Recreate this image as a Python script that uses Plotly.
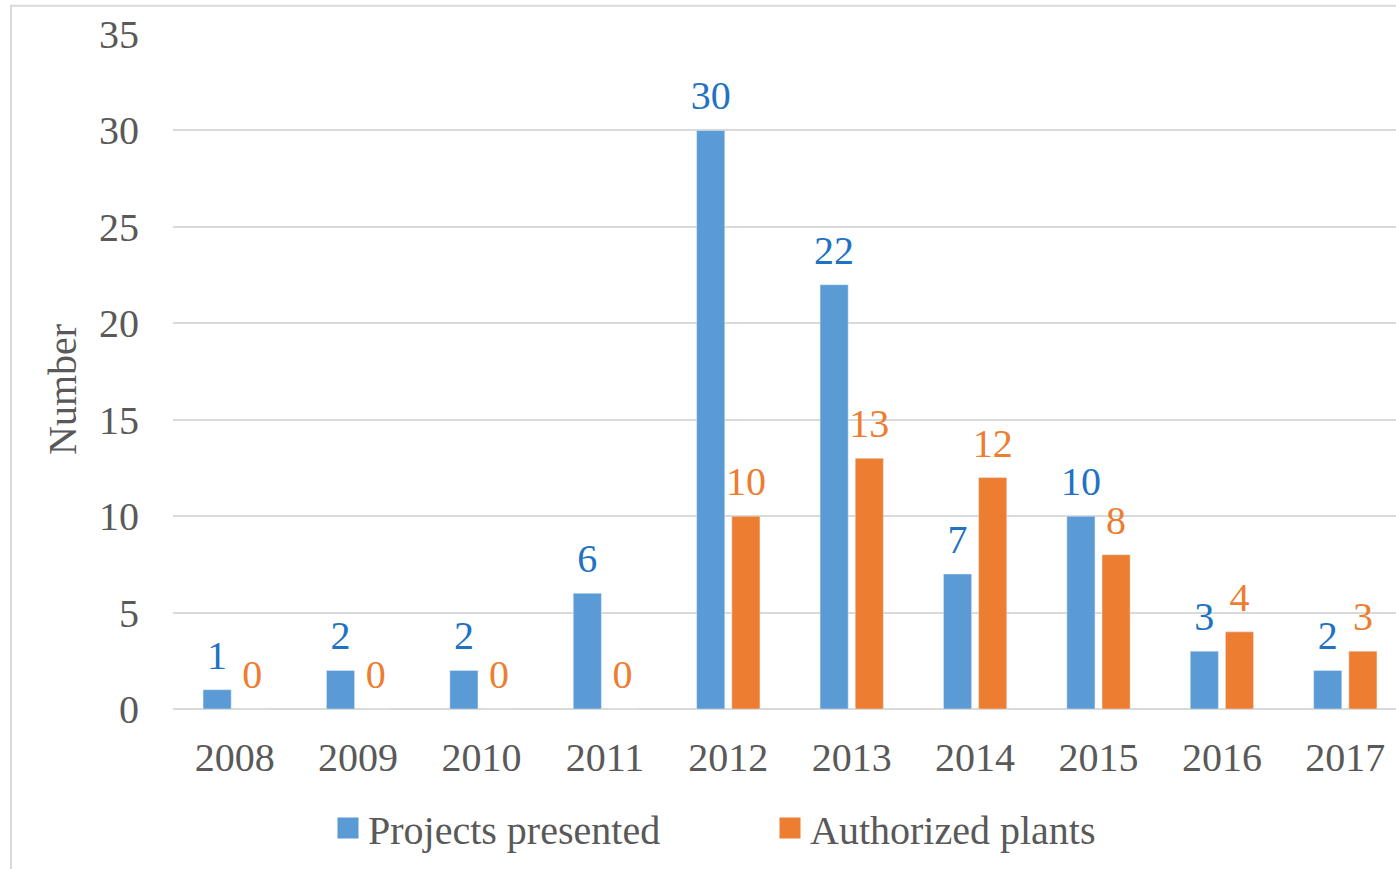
import plotly.graph_objects as go

years = ["2008", "2009", "2010", "2011", "2012", "2013", "2014", "2015", "2016", "2017"]
projects_presented = [1, 2, 2, 6, 30, 22, 7, 10, 3, 2]
authorized_plants = [0, 0, 0, 0, 10, 13, 12, 8, 4, 3]
y_ticks = [0, 5, 10, 15, 20, 25, 30, 35]

BLUE = "#5B9BD5"
ORANGE = "#ED7D31"
BLUE_TXT = "#2272C3"
ORANGE_TXT = "#ED7D31"
GRAY_TXT = "#595959"
FONT = "Liberation Serif, Times New Roman, serif"
FS = 40

W, H = 1396, 869
L, R, T, B = 173, 0, 34, 160
pw = W - L - R
ph = H - T - B
GAP = 0.43

fig = go.Figure()
series = [
    ("Projects presented", projects_presented, BLUE, BLUE_TXT, "p"),
    ("Authorized plants", authorized_plants, ORANGE, ORANGE_TXT, "a"),
]
for nm, vals, col, tcol, grp in series:
    fig.add_trace(go.Bar(
        x=years, y=vals, name=nm, marker=dict(color=col), offsetgroup=grp,
        showlegend=False, hoverinfo="x+y+name",
    ))
# data labels (grouped like the bars, with invisible markers for spacing)
for nm, vals, col, tcol, grp in series:
    fig.add_trace(go.Scatter(
        x=years, y=vals, name=nm, mode="markers+text", orientation="v",
        offsetgroup=grp, text=[str(v) for v in vals], textposition="top center",
        textfont=dict(color=tcol, size=FS, family=FONT),
        marker=dict(size=16, color="rgba(0,0,0,0)"),
        cliponaxis=False, showlegend=False, hoverinfo="skip",
    ))
# legend entries with larger square keys
for nm, vals, col, tcol, grp in series:
    fig.add_trace(go.Scatter(
        x=[None], y=[None], mode="markers", name=nm, orientation="v", offsetgroup=grp,
        marker=dict(symbol="square", size=16, color=col, line=dict(color=col, width=5)),
        showlegend=True,
    ))

cat_px = 123.4
x_right = -0.5 + pw / cat_px

fig.update_layout(
    width=W, height=H,
    margin=dict(l=L, r=R, t=T, b=B),
    paper_bgcolor="white", plot_bgcolor="white",
    barmode="group", bargap=GAP, bargroupgap=0.2,
    scattermode="group", scattergap=GAP,
    font=dict(family=FONT, size=FS, color=GRAY_TXT),
    showlegend=True,
    legend=dict(
        orientation="h", x=(328 - L) / pw, xanchor="left",
        y=(H - B - 828) / ph, yanchor="middle",
        font=dict(family=FONT, size=FS, color=GRAY_TXT),
        itemwidth=30, entrywidth=397, traceorder="normal",
        bgcolor="rgba(0,0,0,0)",
    ),
    xaxis=dict(
        type="category", range=[-0.5, x_right], showgrid=False,
        showline=False, ticks="", ticklabelstandoff=21,
        tickfont=dict(family=FONT, size=FS, color=GRAY_TXT),
    ),
    yaxis=dict(
        range=[0, 35], tickvals=y_ticks, showgrid=True, gridcolor="#D9D9D9",
        gridwidth=2, zeroline=True, zerolinecolor="#D9D9D9", zerolinewidth=2,
        showline=False, ticks="", ticklabelstandoff=33,
        tickfont=dict(family=FONT, size=FS, color=GRAY_TXT),
    ),
    annotations=[dict(
        text="Number", xref="paper", yref="paper", textangle=-90,
        x=(63 - L) / pw, y=(H - B - 390) / ph, xanchor="center", yanchor="middle",
        showarrow=False, font=dict(family=FONT, size=FS, color=GRAY_TXT),
    )],
    shapes=[dict(
        type="rect", xref="paper", yref="paper",
        x0=(11 - L) / pw, x1=1.05, y0=(H - B - 890) / ph, y1=(H - B - 5.7) / ph,
        line=dict(color="#D9D9D9", width=2), fillcolor="rgba(0,0,0,0)", layer="below",
    )],
)

fig.write_html("out.html", config={"displayModeBar": False},
               post_script="document.body.style.margin='0px';")
